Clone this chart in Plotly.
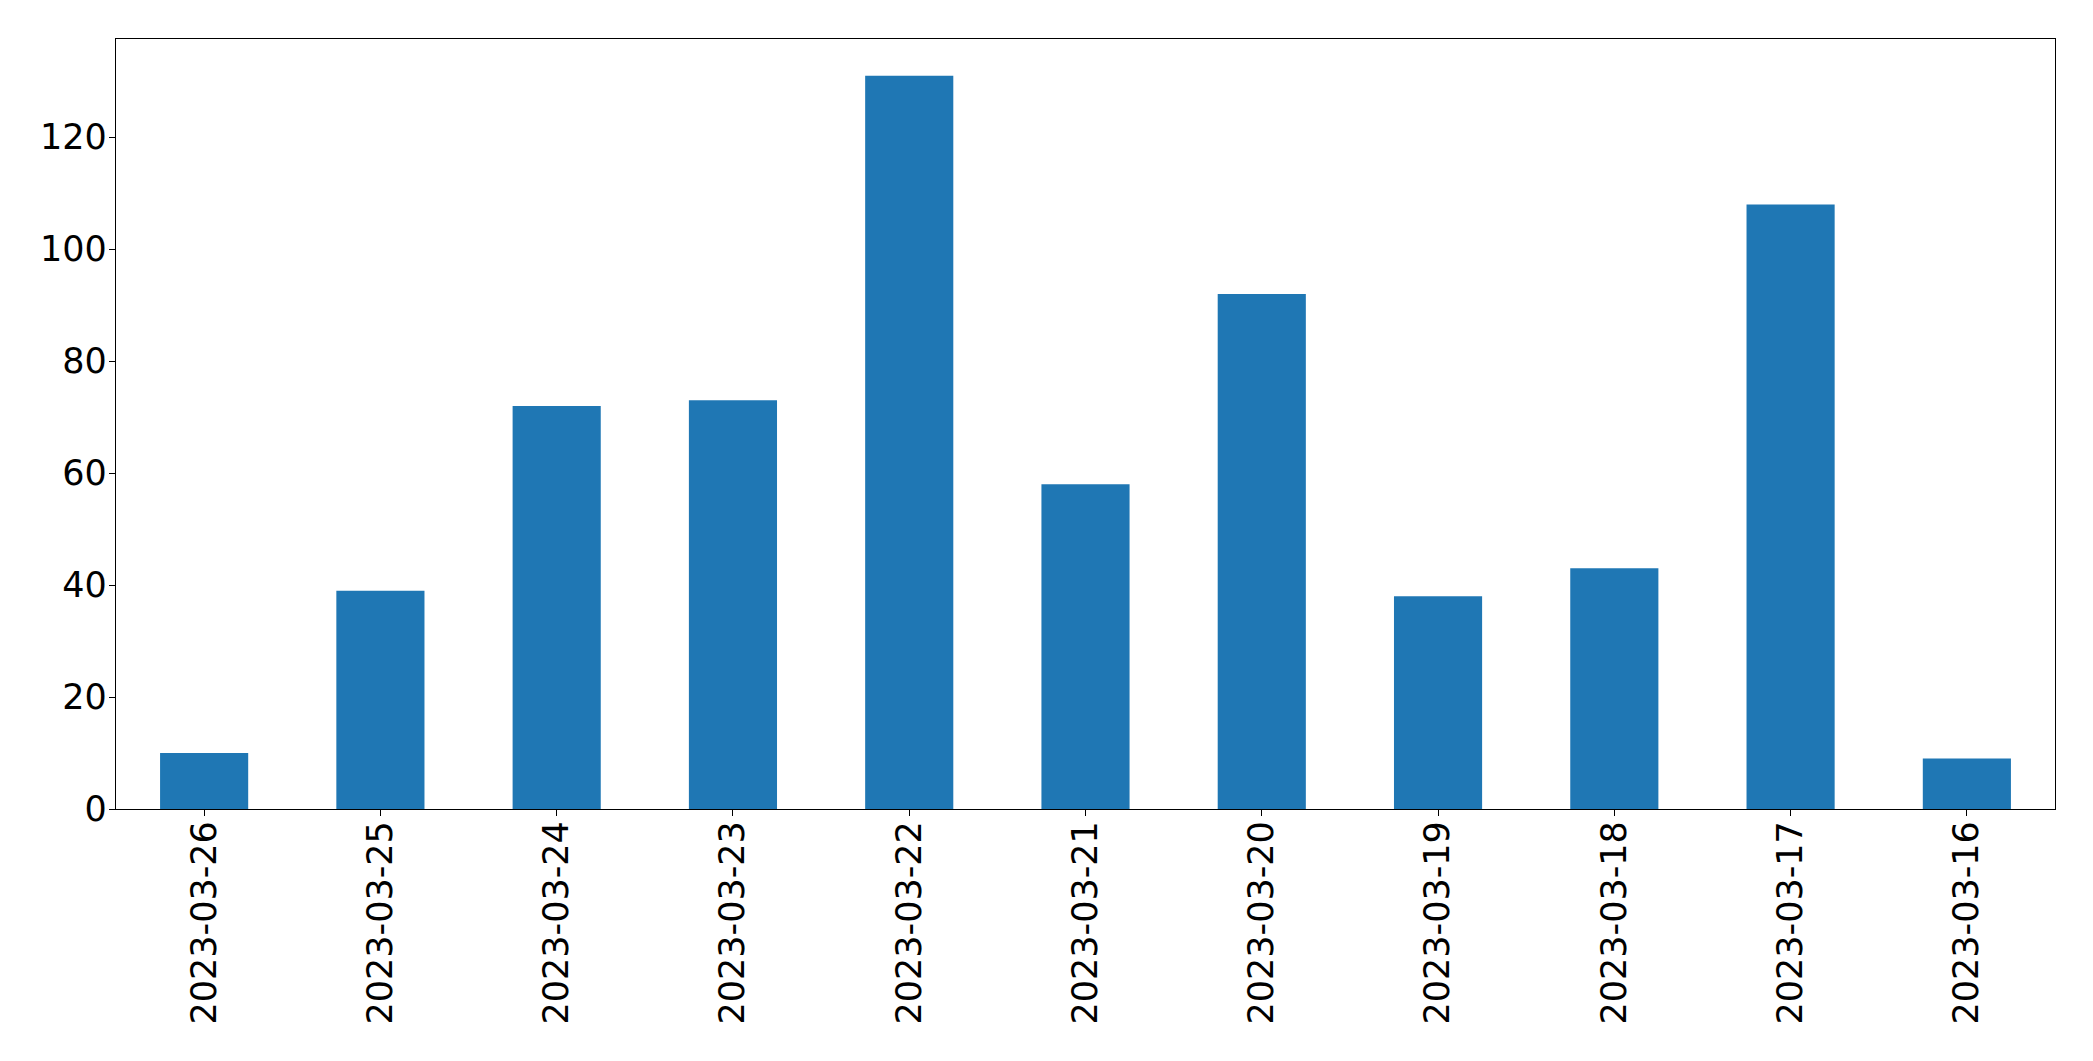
import plotly.graph_objects as go

dates = ["2023-03-26", "2023-03-25", "2023-03-24", "2023-03-23", "2023-03-22",
         "2023-03-21", "2023-03-20", "2023-03-19", "2023-03-18", "2023-03-17",
         "2023-03-16"]
counts = [10, 39, 72, 73, 131, 58, 92, 38, 43, 108, 9]
y_ticks = [0, 20, 40, 60, 80, 100, 120]

fig = go.Figure(go.Bar(x=dates, y=counts, marker=dict(color="#1f77b4", line=dict(width=0))))

axis_common = dict(
    showline=True, mirror=True, linecolor="black", linewidth=1.3,
    ticks="outside", ticklen=6, tickwidth=1.3, tickcolor="black",
    showgrid=False, zeroline=False,
    tickfont=dict(family="DejaVu Sans", size=35, color="black"),
)

fig.update_layout(
    width=2085, height=1053, autosize=False,
    margin=dict(l=108, r=38, t=31, b=252, pad=0),
    plot_bgcolor="white", paper_bgcolor="white",
    bargap=0.5, showlegend=False,
    xaxis=dict(type="category", range=[-0.5, 10.5], tickangle=-90,
               ticklabelstandoff=-9, **axis_common),
    yaxis=dict(range=[0, 137.55], tickvals=y_ticks,
               ticklabelstandoff=-5, **axis_common),
)

fig.write_html("out.html")
